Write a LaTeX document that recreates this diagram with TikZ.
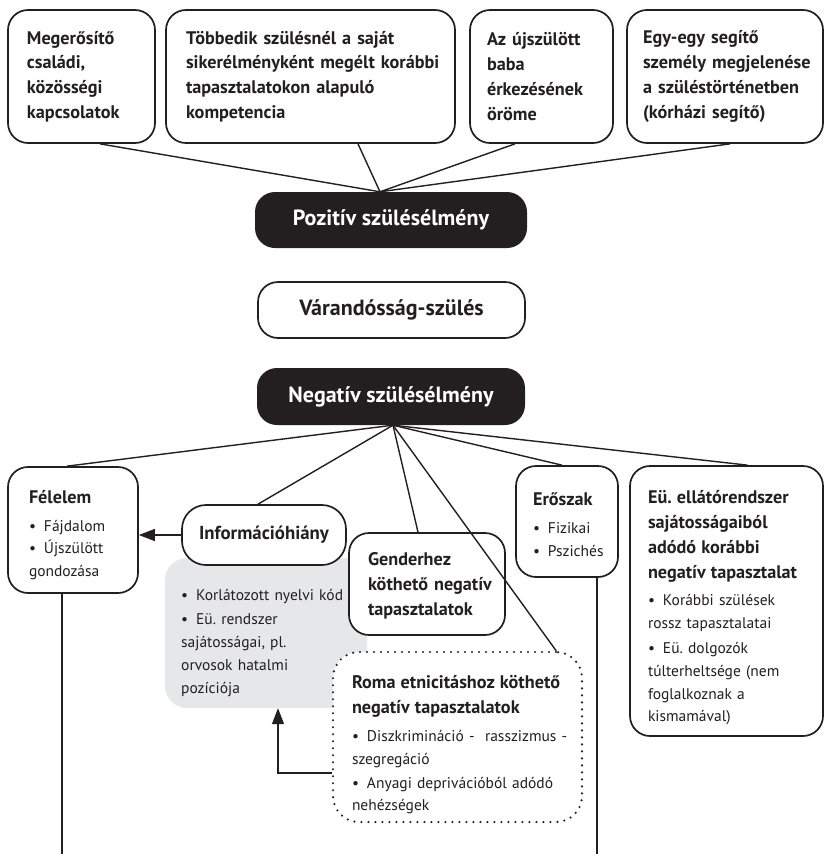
\documentclass[tikz,border=0pt]{standalone}
\usepackage{fontspec}
\setmainfont{PT Sans}
\usetikzlibrary{arrows.meta,calc}
\definecolor{ink}{HTML}{231F20}
\definecolor{graybg}{HTML}{E6E7E8}
\newcommand{\ttlfont}{\fontsize{18.2}{24.8}\selectfont\bfseries}
\newcommand{\blfont}{\fontsize{15.5}{22.8}\selectfont}
\newcommand{\bitem}{\par\hangindent=15pt\hangafter=1\noindent\makebox[15pt][l]{\textbullet}}
\newcommand{\lowerby}[1]{\par\vspace{-#1}}
\hyphenpenalty=10000
\exhyphenpenalty=10000
\begin{document}
\begin{tikzpicture}[x=1pt,y=-1pt,
  every node/.style={text=ink},
  box/.style={draw=ink, line width=1.7pt, rounded corners=20pt, fill=white, align=left, inner ysep=0pt},
  darkbox/.style={fill=ink, rounded corners=20pt, text=white, font=\fontsize{22}{26}\selectfont\bfseries, inner sep=0pt},
  conn/.style={draw=ink, line width=1.4pt},
  arr/.style={conn, -{Triangle[length=16pt,width=12pt]}},
  dotbox/.style={draw=ink, line width=2.4pt, dash pattern=on 0pt off 7pt, line cap=round, rounded corners=26pt, fill=white, align=left, inner ysep=0pt},
]
\useasboundingbox (0,0) rectangle (826,854);

% top boxes
\node[box, minimum width=147pt, minimum height=133pt, text width=109pt, inner xsep=19pt, font=\ttlfont] (t1) at (81.5,76.5)
  {Megerősítő\\családi,\\közösségi\\kapcsolatok};
\node[box, minimum width=289pt, minimum height=133pt, text width=249pt, inner xsep=20pt, font=\ttlfont] (t2) at (310.5,76.5)
  {Többedik~szülésnél~a~saját\\sikerélményként~megélt~korábbi\\tapasztalatokon~alapuló\\kompetencia};
\node[box, minimum width=143pt, minimum height=133pt, text width=109pt, inner xsep=17pt, font=\ttlfont] (t3) at (541.5,76.5)
  {Az~újszülött\\baba\\érkezésének\\öröme};
\node[box, minimum width=196pt, minimum height=133pt, text width=164pt, inner xsep=16pt, font=\ttlfont] (t4) at (725,76.5)
  {Egy-egy~segítő\\személy~megjelenése\\a~szüléstörténetben\\(kórházi~segítő)};

% central boxes
\node[darkbox, minimum width=272pt, minimum height=56pt] (pos) at (391,220) {Pozitív szülésélmény};
\node[box, minimum width=267pt, minimum height=56pt, font=\fontsize{22}{26}\selectfont\bfseries, align=center, inner xsep=0pt] (var) at (391.5,310) {Várandósság-szülés};
\node[darkbox, minimum width=268pt, minimum height=57pt] (neg) at (391,396.5) {Negatív szülésélmény};

% bottom boxes
\node[box, minimum width=130pt, minimum height=126pt, text width=88pt, inner xsep=21pt, font=\blfont] (fel) at (73,530)
  {{\ttlfont Félelem\par}\vspace{5pt}\bitem Fájdalom\par\bitem Újszülött\\gondozása\lowerby{10pt}};

\node[fill=graybg, rounded corners=22pt, minimum width=202pt, minimum height=150pt, inner sep=0pt] (gray) at (266,633) {};
\node[anchor=north west, text width=180pt, inner sep=0pt, align=left, font=\blfont] (graytxt) at (181,577)
  {\bitem Korlátozott~nyelvi~kód\par\vspace{2pt}\bitem Eü.~rendszer\\sajátosságai,~pl.\\orvosok~hatalmi\\pozíciója\par};

\node[box, rounded corners=24pt, minimum width=164pt, minimum height=60pt, font=\fontsize{18.8}{22}\selectfont\bfseries, align=center, inner xsep=0pt] (info) at (264,535) {Információhiány};

\node[box, minimum width=156pt, minimum height=102pt, text width=118pt, inner xsep=19pt, font=\ttlfont] (gender) at (427,584)
  {Genderhez\\köthető~negatív\\tapasztalatok\lowerby{4pt}};

\node[box, minimum width=102pt, minimum height=111pt, text width=68pt, inner xsep=17pt, font=\blfont] (eros) at (567,521.5)
  {{\ttlfont Erőszak\par}\vspace{5pt}\bitem Fizikai\par\bitem Pszichés\lowerby{6pt}};

\node[box, minimum width=193pt, minimum height=270pt, text width=157pt, inner xsep=18pt, font=\blfont] (eu) at (726.5,601)
  {{\ttlfont Eü.~ellátórendszer\\sajátosságaiból\\adódó~korábbi\\negatív~tapasztalat\par}\vspace{5pt}%
   \bitem Korábbi~szülések\\rossz~tapasztalatai\par\vspace{2pt}%
   \bitem Eü.~dolgozók\\túlterheltsége~(nem\\foglalkoznak~a\\kismamával)\lowerby{14pt}};

\node[dotbox, minimum width=249pt, minimum height=170pt, text width=211pt, inner xsep=19pt, font=\blfont] (roma) at (457.5,737)
  {{\ttlfont Roma~etnicitáshoz~köthető\\negatív~tapasztalatok\par}\vspace{5pt}%
   \bitem Diszkrimináció~-~~rasszizmus~-\\szegregáció\par\vspace{1pt}%
   \bitem Anyagi~deprivációból~adódó\\nehézségek\lowerby{16pt}};

% connectors: positive
\coordinate (papex) at ($(pos.north)+(-11,0)$);
\draw[conn] ($(t1.south)+(18.5,0)$) -- (papex);
\draw[conn] ($(t2.south)+(47.5,0)$) -- (papex);
\draw[conn] ($(t3.south)+(-26.5,0)$) -- (papex);
\draw[conn] ($(t4.south)+(5,0)$) -- (papex);

% connectors: negative
\coordinate (napex) at ($(neg.south)+(2,0)$);
\draw[conn] (napex) -- ($(fel.north)+(-6,0)$);
\draw[conn] (napex) -- ($(info.north)+(-6,0)$);
\draw[conn] (napex) -- ($(gender.north)+(-9,0)$);
\draw[conn] (napex) -- ($(roma.north east)+(-27,0)$);
\draw[conn] (napex) -- ($(eros.north)+(-5,0)$);
\draw[conn] (napex) -- ($(eu.north)+(21,0)$);

% arrows
\draw[arr] (info.west) -- (info.west -| fel.east);
\draw[arr] ($(roma.west)+(0,36)$) -| ($(gray.south)+(12,0)$);

% vertical lines to the bottom edge
\coordinate (felend) at (62,854);
\coordinate (erosend) at (597,854);
\draw[conn] ($(fel.south)+(-11,0)$) -- (felend);
\draw[conn] ($(eros.south)+(30,0)$) -- (erosend);
\end{tikzpicture}
\end{document}
